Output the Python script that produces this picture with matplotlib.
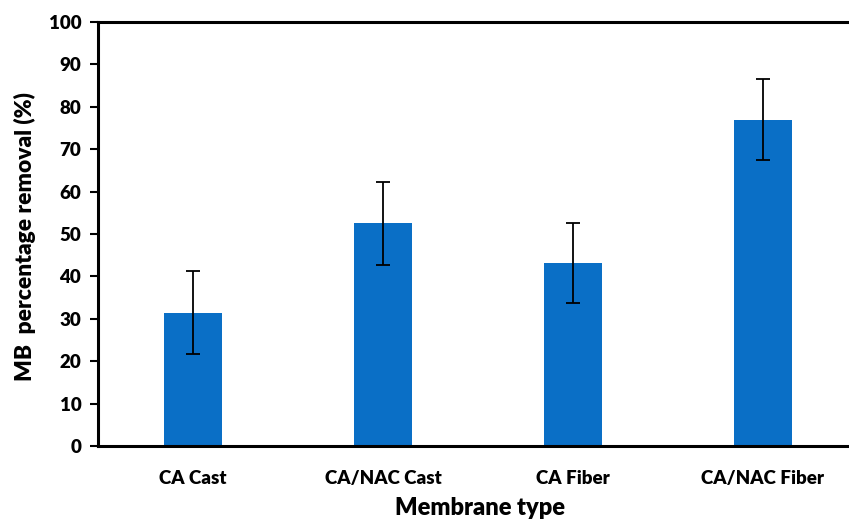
import numpy as np
import matplotlib.pyplot as plt

# data
membranes = ["CA Cast", "CA/NAC Cast", "CA Fiber", "CA/NAC Fiber"]
removal = [31.4, 52.5, 43.2, 77.0]
removal_err = [9.8, 9.7, 9.5, 9.6]

plt.rcParams['font.family'] = ['Lato', 'DejaVu Sans']
plt.rcParams['font.weight'] = 'heavy'

fig = plt.figure(figsize=(8.49, 5.2), dpi=100)
ax = fig.add_axes([0.1154, 0.1423, 0.895, 0.8154])

x = np.arange(len(membranes))
ax.bar(x, removal, width=0.305, color='#0A6FC6', zorder=2)
ax.errorbar(x, removal, yerr=removal_err, fmt='none', ecolor='black',
            elinewidth=1.3, capsize=5, capthick=1.3, zorder=3)

ax.set_xlim(-0.5, 3.5)
ax.set_ylim(0, 100)
ax.set_yticks(np.arange(0, 101, 10))
ax.set_xticks(x)
ax.set_xticklabels(membranes, fontsize=13.5, fontweight='heavy')
ax.tick_params(axis='x', length=0, pad=17)
ax.tick_params(axis='y', direction='out', length=6, width=1.5, labelsize=13.5, pad=6)
for lab in ax.get_yticklabels():
    lab.set_fontweight('heavy')

for side in ['left', 'top', 'bottom', 'right']:
    ax.spines[side].set_linewidth(2.2)
    ax.spines[side].set_color('black')

ax.set_xlabel("Membrane type", fontsize=17, fontweight='heavy')
ax.set_ylabel("MB  percentage removal (%)", fontsize=16.4, fontweight='heavy')
ax.xaxis.set_label_coords(0.503, -0.12)
ax.yaxis.set_label_coords(-0.081, 0.493)

fig.savefig("out.png", dpi=100)
